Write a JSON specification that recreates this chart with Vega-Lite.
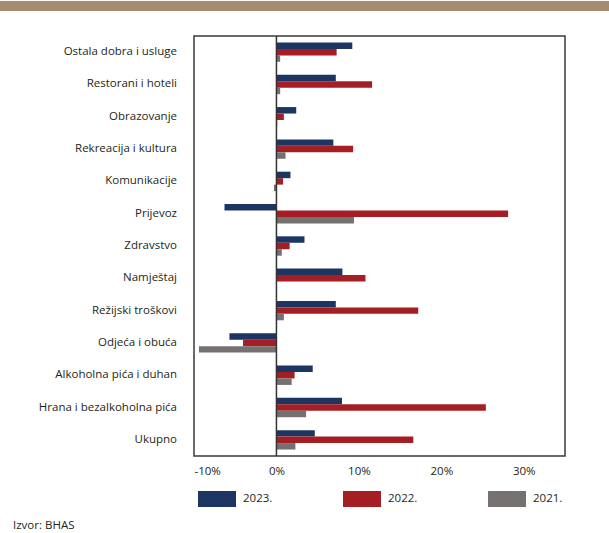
{
  "$schema": "https://vega.github.io/schema/vega-lite/v6.json",
  "padding": 0,
  "background": "white",
  "spacing": 23,
  "config": {
    "font": "Open Sans",
    "text": {"font": "Open Sans"}
  },
  "datasets": {
    "cpi": [
      {"k": "Ostala dobra i usluge", "g": "2023.", "v": 9.2},
      {"k": "Ostala dobra i usluge", "g": "2022.", "v": 7.3},
      {"k": "Ostala dobra i usluge", "g": "2021.", "v": 0.45},
      {"k": "Restorani i hoteli", "g": "2023.", "v": 7.2},
      {"k": "Restorani i hoteli", "g": "2022.", "v": 11.6},
      {"k": "Restorani i hoteli", "g": "2021.", "v": 0.45},
      {"k": "Obrazovanje", "g": "2023.", "v": 2.4},
      {"k": "Obrazovanje", "g": "2022.", "v": 0.9},
      {"k": "Obrazovanje", "g": "2021.", "v": 0.1},
      {"k": "Rekreacija i kultura", "g": "2023.", "v": 6.9},
      {"k": "Rekreacija i kultura", "g": "2022.", "v": 9.3},
      {"k": "Rekreacija i kultura", "g": "2021.", "v": 1.1},
      {"k": "Komunikacije", "g": "2023.", "v": 1.7},
      {"k": "Komunikacije", "g": "2022.", "v": 0.8},
      {"k": "Komunikacije", "g": "2021.", "v": -0.3},
      {"k": "Prijevoz", "g": "2023.", "v": -6.3},
      {"k": "Prijevoz", "g": "2022.", "v": 28.1},
      {"k": "Prijevoz", "g": "2021.", "v": 9.4},
      {"k": "Zdravstvo", "g": "2023.", "v": 3.4},
      {"k": "Zdravstvo", "g": "2022.", "v": 1.6},
      {"k": "Zdravstvo", "g": "2021.", "v": 0.65},
      {"k": "Namještaj", "g": "2023.", "v": 8.0},
      {"k": "Namještaj", "g": "2022.", "v": 10.8},
      {"k": "Namještaj", "g": "2021.", "v": 0.0},
      {"k": "Režijski troškovi", "g": "2023.", "v": 7.2},
      {"k": "Režijski troškovi", "g": "2022.", "v": 17.2},
      {"k": "Režijski troškovi", "g": "2021.", "v": 0.9},
      {"k": "Odjeća i obuća", "g": "2023.", "v": -5.7},
      {"k": "Odjeća i obuća", "g": "2022.", "v": -4.05},
      {"k": "Odjeća i obuća", "g": "2021.", "v": -9.4},
      {"k": "Alkoholna pića i duhan", "g": "2023.", "v": 4.4},
      {"k": "Alkoholna pića i duhan", "g": "2022.", "v": 2.2},
      {"k": "Alkoholna pića i duhan", "g": "2021.", "v": 1.85},
      {"k": "Hrana i bezalkoholna pića", "g": "2023.", "v": 7.95},
      {"k": "Hrana i bezalkoholna pića", "g": "2022.", "v": 25.4},
      {"k": "Hrana i bezalkoholna pića", "g": "2021.", "v": 3.6},
      {"k": "Ukupno", "g": "2023.", "v": 4.65},
      {"k": "Ukupno", "g": "2022.", "v": 16.6},
      {"k": "Ukupno", "g": "2021.", "v": 2.3}
    ],
    "cats": [
      {"k": "Ostala dobra i usluge"},
      {"k": "Restorani i hoteli"},
      {"k": "Obrazovanje"},
      {"k": "Rekreacija i kultura"},
      {"k": "Komunikacije"},
      {"k": "Prijevoz"},
      {"k": "Zdravstvo"},
      {"k": "Namještaj"},
      {"k": "Režijski troškovi"},
      {"k": "Odjeća i obuća"},
      {"k": "Alkoholna pića i duhan"},
      {"k": "Hrana i bezalkoholna pića"},
      {"k": "Ukupno"}
    ]
  },
  "title": {
    "text": "Izvor: BHAS",
    "orient": "bottom",
    "anchor": "start",
    "frame": "bounds",
    "dx": 13,
    "offset": 8,
    "font": "Open Sans",
    "fontSize": 11.5,
    "fontWeight": "normal",
    "color": "#231f20"
  },
  "vconcat": [
    {
      "width": 609,
      "height": 10,
      "view": {"fill": "#a48b70", "stroke": null},
      "data": {"values": [{"t": ""}]},
      "mark": {"type": "text"},
      "encoding": {"text": {"field": "t"}}
    },
    {
      "spacing": 16,
      "resolve": {"scale": {"color": "independent"}, "legend": {"color": "independent"}},
      "hconcat": [
        {
          "width": 177,
          "height": 420,
          "view": {"stroke": null},
          "data": {"name": "cats"},
          "mark": {"type": "text", "align": "right", "baseline": "middle", "font": "Open Sans", "fontSize": 11.5, "color": "#231f20"},
          "encoding": {
            "y": {
              "field": "k",
              "type": "nominal",
              "sort": null,
              "scale": {"paddingInner": 0.4, "paddingOuter": 0.2},
              "axis": null
            },
            "x": {"datum": 1, "type": "quantitative", "scale": {"domain": [0, 1]}, "axis": null},
            "text": {"field": "k"}
          }
        },
        {
          "width": 371,
          "height": 420,
          "view": {"stroke": "#3a3a3a", "strokeWidth": 1.5},
          "data": {"name": "cpi"},
          "layer": [
            {
              "mark": {"type": "bar"},
              "encoding": {
                "y": {
                  "field": "k",
                  "type": "nominal",
                  "sort": ["Ostala dobra i usluge", "Restorani i hoteli", "Obrazovanje", "Rekreacija i kultura", "Komunikacije", "Prijevoz", "Zdravstvo", "Namještaj", "Režijski troškovi", "Odjeća i obuća", "Alkoholna pića i duhan", "Hrana i bezalkoholna pića", "Ukupno"],
                  "scale": {"paddingInner": 0.4, "paddingOuter": 0.2},
                  "axis": null
                },
                "yOffset": {"field": "g", "type": "nominal", "sort": ["2023.", "2022.", "2021."], "scale": {"paddingInner": 0, "paddingOuter": 0}},
                "x": {
                  "field": "v",
                  "type": "quantitative",
                  "scale": {"domain": [-10, 35], "nice": false},
                  "axis": {
                    "title": null,
                    "values": [-10, 0, 10, 20, 30],
                    "labelExpr": "datum.value + '%'",
                    "ticks": false,
                    "domain": false,
                    "grid": false,
                    "labelPadding": 9,
                    "labelFont": "Open Sans",
                    "labelFontSize": 11.5,
                    "labelColor": "#231f20"
                  }
                },
                "color": {
                  "field": "g",
                  "type": "nominal",
                  "scale": {"domain": ["2023.", "2022.", "2021."], "range": ["#1d3562", "#a51e24", "#767171"]},
                  "legend": {
                    "title": null,
                    "orient": "bottom",
                    "direction": "horizontal",
                    "symbolType": "M-1,-0.42H1V0.42H-1Z",
                    "symbolSize": 1444,
                    "symbolStrokeWidth": 0,
                    "symbolOpacity": 1,
                    "labelFont": "Open Sans",
                    "labelFontSize": 11.5,
                    "labelColor": "#231f20",
                    "labelOffset": 7,
                    "columnPadding": 70,
                    "padding": 4,
                    "offset": -1
                  }
                }
              }
            },
            {
              "data": {"values": [{"z": 0}]},
              "mark": {"type": "rule", "color": "#333333", "strokeWidth": 1.5},
              "encoding": {"x": {"field": "z", "type": "quantitative"}}
            }
          ]
        }
      ]
    }
  ]
}
